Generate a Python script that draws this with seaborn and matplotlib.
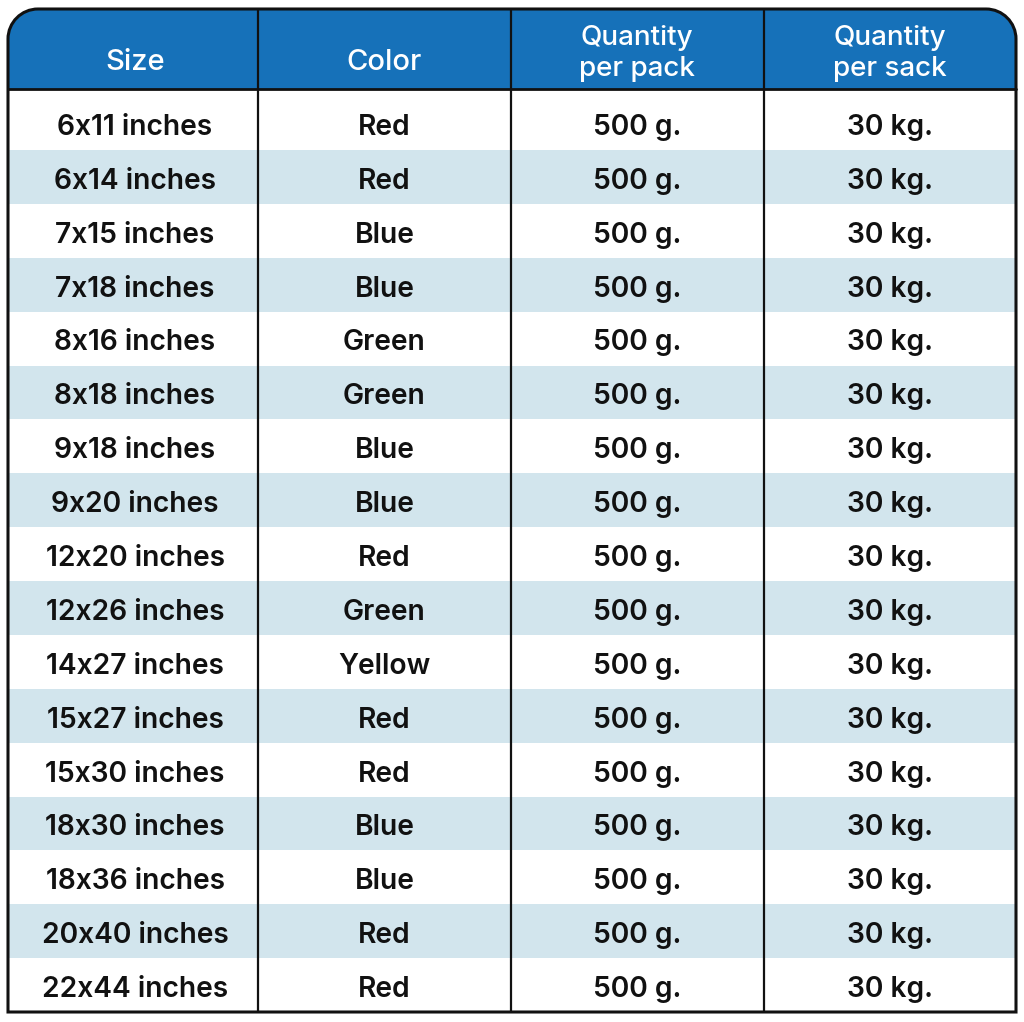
import numpy as np
import matplotlib
matplotlib.use("Agg")
import matplotlib.pyplot as plt
from matplotlib.path import Path
from matplotlib.patches import PathPatch
from matplotlib.colors import ListedColormap
import seaborn as sns

# ---------------- data ----------------
headers = ["Size", "Color", "Quantity\nper pack", "Quantity\nper sack"]
sizes = ["6x11 inches", "6x14 inches", "7x15 inches", "7x18 inches", "8x16 inches",
         "8x18 inches", "9x18 inches", "9x20 inches", "12x20 inches", "12x26 inches",
         "14x27 inches", "15x27 inches", "15x30 inches", "18x30 inches", "18x36 inches",
         "20x40 inches", "22x44 inches"]
colors = ["Red", "Red", "Blue", "Blue", "Green", "Green", "Blue", "Blue", "Red",
          "Green", "Yellow", "Red", "Red", "Blue", "Blue", "Red", "Red"]
per_pack = ["500 g."] * 17
per_sack = ["30 kg."] * 17

# ---------------- style ----------------
sns.set_theme(style="white")
plt.rcParams["font.family"] = ["Inter", "DejaVu Sans"]

BLUE = "#1671B9"
STRIPE = "#D2E5ED"
INK = "#111111"

W, H = 1024, 1022
fig = plt.figure(figsize=(W / 100, H / 100), dpi=100)
fig.patch.set_facecolor("white")

# geometry (pixels)
X0, X1 = 8, 1016
Y_TOP, Y_HEAD = 9, 89
ROW1_END = 150
PITCH = 53.875
n = len(sizes)
Y_BOT = ROW1_END + (n - 1) * PITCH
col_edges = [X0, 258, 511, 764, X1]
col_centers = [135, 384.5, 637, 890]

# striped body rows (rows 2..17) drawn as a seaborn heatmap
stripe = np.array([[1 - (i % 2)] * 4 for i in range(n - 1)])
hax = fig.add_axes([X0 / W, 1 - Y_BOT / H, (X1 - X0) / W, (Y_BOT - ROW1_END) / H])
sns.heatmap(stripe, ax=hax, cmap=ListedColormap(["white", STRIPE]), cbar=False,
            xticklabels=False, yticklabels=False, linewidths=0, vmin=0, vmax=1)
hax.set_axis_off()

# overlay axes in pixel coordinates
ax = fig.add_axes([0, 0, 1, 1])
ax.set_xlim(0, W)
ax.set_ylim(H, 0)
ax.set_axis_off()
ax.patch.set_alpha(0)


def top_rounded(x0, y0, x1, y1, r):
    k = 0.5523 * r
    verts = [(x0, y1), (x0, y0 + r), (x0, y0 + r - k), (x0 + r - k, y0), (x0 + r, y0),
             (x1 - r, y0), (x1 - r + k, y0), (x1, y0 + r - k), (x1, y0 + r),
             (x1, y1), (x0, y1)]
    codes = [Path.MOVETO, Path.LINETO, Path.CURVE4, Path.CURVE4, Path.CURVE4,
             Path.LINETO, Path.CURVE4, Path.CURVE4, Path.CURVE4,
             Path.LINETO, Path.CLOSEPOLY]
    return Path(verts, codes)


R = 30
ax.add_patch(PathPatch(top_rounded(X0, Y_TOP, X1, Y_HEAD, R), facecolor=BLUE,
                       edgecolor="none", zorder=1))

# grid lines
for x in col_edges[1:-1]:
    ax.plot([x, x], [Y_TOP, Y_BOT], color=INK, lw=1.6, zorder=3, solid_capstyle="butt")
ax.plot([X0, X1], [Y_HEAD, Y_HEAD], color=INK, lw=2.0, zorder=3)
ax.add_patch(PathPatch(top_rounded(X0, Y_TOP, X1, Y_BOT, R), facecolor="none",
                       edgecolor=INK, lw=2.2, zorder=4))

FS = 20.3
HFS = 20.0
# header text
for cx, h in zip(col_centers, headers):
    lines = h.split("\n")
    if len(lines) == 1:
        ax.text(cx, 69.5, lines[0], ha="center", va="baseline", color="white",
                fontsize=HFS + 1, fontweight="medium", zorder=5)
    else:
        ax.text(cx, 45, lines[0], ha="center", va="baseline", color="white",
                fontsize=HFS, fontweight="medium", zorder=5)
        ax.text(cx, 76, lines[1], ha="center", va="baseline", color="white",
                fontsize=HFS, fontweight="medium", zorder=5)

# body text
for i in range(n):
    yb = 125 + PITCH * i + 10
    for cx, col in zip(col_centers, [sizes, colors, per_pack, per_sack]):
        ax.text(cx, yb, col[i], ha="center", va="baseline", color=INK,
                fontsize=FS, fontweight="semibold", zorder=5)

fig.savefig("out.png", dpi=100, facecolor="white")
